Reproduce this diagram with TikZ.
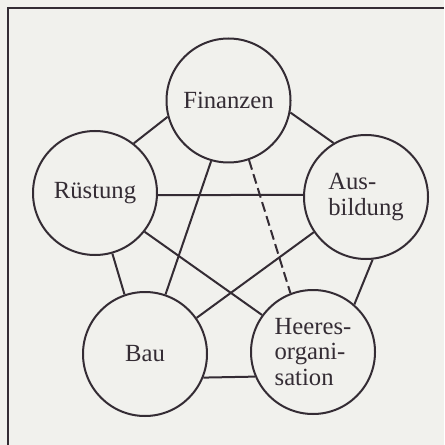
\documentclass[tikz,border=0pt]{standalone}
\usepackage{fontspec}
\setmainfont{Liberation Serif}
\definecolor{ink}{RGB}{52,44,52}
\definecolor{paper}{RGB}{241,241,237}
\begin{document}
\begin{tikzpicture}[x=0.75pt,y=-0.75pt,
  bub/.style={circle,draw=ink,line width=1.5pt,minimum size=93pt,inner sep=0pt,
    text=ink,font=\fontsize{18.5}{19}\selectfont},
  link/.style={draw=ink,line width=1.5pt},
  dlink/.style={link,dash pattern=on 7.5pt off 3.5pt},
  frame/.style={draw=ink,line width=1.6pt}]
\useasboundingbox[fill=paper] (0,0) rectangle (444,445);
\draw[frame] (8,445) -- (8,8) -- (444,8);
\node[bub] (F) at (228.5,100.5) {Finanzen};
\node[bub] (R) at (95,193) {Rüstung};
\node[bub,align=left] (A) at (366,197) {Aus-\\bildung};
\node[bub] (B) at (145,354) {Bau};
\node[bub,align=left] (H) at (313,352) {Heeres-\\organi-\\sation};
\draw[link] (F.195) -- (R.52);
\draw[link] (F.349) -- (A.121);
\draw[link] (F.254) -- (B.71);
\draw[dlink] (F.289) -- (H.111);
\draw[link] (R.-2) -- (A.178);
\draw[link] (R.286) -- (B.109);
\draw[link] (R.322) -- (H.144);
\draw[link] (A.214) -- (B.35);
\draw[link] (A.276) -- (H.49);
\draw[link] (B.338) -- (H.203);
\end{tikzpicture}
\end{document}
